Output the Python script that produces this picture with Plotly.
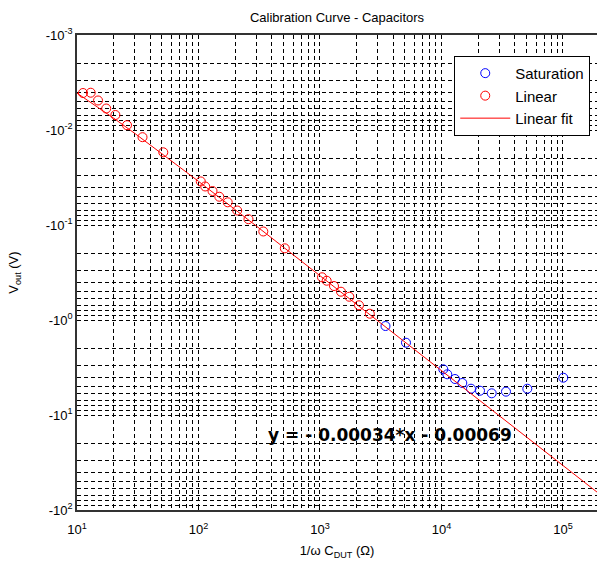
import plotly.graph_objects as go

# ---- data ----
linear_x = [11.2, 12.97, 14.9, 17.4, 20.7, 25.8, 34.6, 51.3,
            104.4, 113.5, 130.4, 148.3, 174, 208.2, 257.9, 341.5, 513.3,
            1039, 1135, 1304, 1489, 1743, 2094, 2570]
linear_y = [-0.00408, -0.00405, -0.00489, -0.00594, -0.00695, -0.0089, -0.0119, -0.01717,
            -0.0348, -0.0393, -0.0439, -0.0504, -0.0577, -0.0704, -0.0869, -0.117, -0.176,
            -0.355, -0.386, -0.439, -0.504, -0.569, -0.700, -0.859]

sat_x = [3460, 5103, 10346, 11160, 12915, 14833, 17496, 20745, 25900, 33950, 50850, 100580]
sat_y = [-1.157, -1.734, -3.303, -3.729, -4.179, -4.603, -5.287, -5.55, -5.91, -5.68, -5.29, -4.05]

fit_slope = -0.00034
fit_intercept = -0.00069
fit_x = [10, 12, 15, 20, 30, 50, 100, 300, 1000, 1e4, 1e5, 2e5]

y_tick_vals = [1e-3, 1e-2, 1e-1, 1e0, 1e1, 1e2]
y_tick_text = ["-10<sup>-3</sup>", "-10<sup>-2</sup>", "-10<sup>-1</sup>",
               "-10<sup>0</sup>", "-10<sup>1</sup>", "-10<sup>2</sup>"]
x_tick_vals = [1e1, 1e2, 1e3, 1e4, 1e5]
x_tick_text = ["10<sup>1</sup>", "10<sup>2</sup>", "10<sup>3</sup>",
               "10<sup>4</sup>", "10<sup>5</sup>"]

# magnitudes plotted on a reversed log axis, labelled as negatives
lin_mag = [-v for v in linear_y]
sat_mag = [-v for v in sat_y]
fit_mag = [-(fit_slope * x + fit_intercept) for x in fit_x]

x_minor = [m * 10 ** k for k in range(1, 6) for m in range(2, 10)]
y_minor = [m * 10.0 ** k for k in range(-3, 2) for m in range(2, 10)]

FONT = "Liberation Sans, Arial, sans-serif"
GRID_DASH = "4px,3px"

fig = go.Figure()
fig.add_trace(go.Scatter(
    x=sat_x, y=sat_mag, mode="markers", name="Saturation",
    marker=dict(symbol="circle-open", size=9, color="#0000ff", line=dict(width=1)),
))
fig.add_trace(go.Scatter(
    x=linear_x, y=lin_mag, mode="markers", name="Linear",
    marker=dict(symbol="circle-open", size=9, color="#ff0000", line=dict(width=1)),
))
fig.add_trace(go.Scatter(
    x=fit_x, y=fit_mag, mode="lines", name="Linear fit",
    line=dict(color="#ff0000", width=1),
))

fig.update_layout(
    template="none",
    width=597, height=561,
    margin=dict(l=77, r=0, t=35, b=51, autoexpand=False),
    paper_bgcolor="white", plot_bgcolor="white",
    font=dict(family=FONT, size=12, color="black"),
    title=dict(text="Calibration Curve - Capacitors", x=77 / 597 + 0.5 * 520 / 597,
               xref="container", xanchor="center", y=1 - 17 / 561, yref="container",
               yanchor="middle",
               font=dict(family=FONT, size=13, color="black")),
    showlegend=True,
    legend=dict(x=0.987, y=0.956, xanchor="right", yanchor="top",
                bgcolor="white", bordercolor="black", borderwidth=1,
                font=dict(family=FONT, size=15, color="black"),
                itemwidth=50, tracegroupgap=0),
    annotations=[dict(
        text="<b>y = - 0.00034*x - 0.00069</b>", xref="paper", yref="paper",
        x=0.363, y=0.158, xanchor="left", yanchor="middle", showarrow=False,
        font=dict(family="DejaVu Sans, sans-serif", size=17, color="black"),
    )],
)

fig.update_xaxes(
    type="log", range=[1, 5.28], automargin=False,
    tickmode="array", tickvals=x_tick_vals, ticktext=x_tick_text,
    showgrid=True, gridcolor="black", gridwidth=1, griddash=GRID_DASH,
    minor=dict(tickmode="array", tickvals=x_minor, showgrid=True,
               gridcolor="black", gridwidth=1, griddash=GRID_DASH, ticks=""),
    showline=True, linecolor="#333333", linewidth=1.5, mirror=True,
    ticks="inside", ticklen=4, tickcolor="black", ticklabelstandoff=7,
    zeroline=False,
    tickfont=dict(family=FONT, size=13, color="black"),
    title=dict(text="1/ω C<sub>DUT</sub> (Ω)", standoff=10,
               font=dict(family=FONT, size=13, color="black")),
)
fig.update_yaxes(
    type="log", range=[2, -3], automargin=False,
    tickmode="array", tickvals=y_tick_vals, ticktext=y_tick_text,
    showgrid=True, gridcolor="black", gridwidth=1, griddash=GRID_DASH,
    minor=dict(tickmode="array", tickvals=y_minor, showgrid=True,
               gridcolor="black", gridwidth=1, griddash=GRID_DASH, ticks=""),
    showline=True, linecolor="#333333", linewidth=1.5, mirror=False,
    ticks="inside", ticklen=4, tickcolor="black",
    zeroline=False,
    tickfont=dict(family=FONT, size=13, color="black"),
    title=dict(text="V<sub>out</sub> (V)", standoff=24,
               font=dict(family=FONT, size=13, color="black")),
)

fig.write_html("out.html", config={"displayModeBar": False},
               post_script="document.body.style.margin='0';document.body.style.overflow='hidden';")
